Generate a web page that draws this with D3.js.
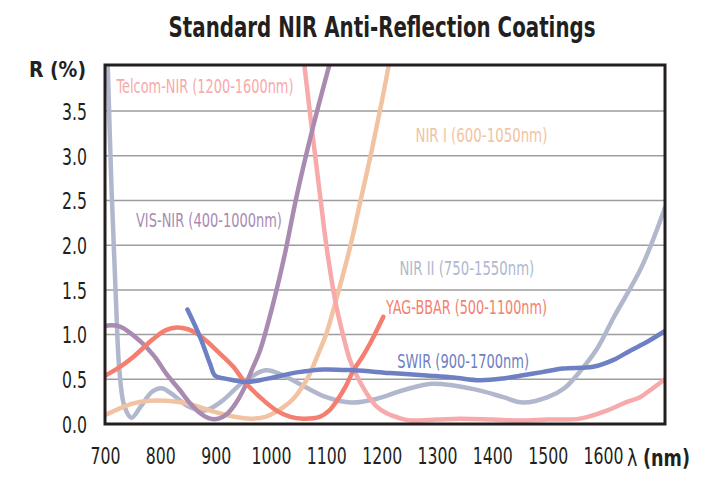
<!DOCTYPE html>
<html>
<head>
<meta charset="utf-8">
<script src="https://cdn.jsdelivr.net/npm/d3@7/dist/d3.min.js"></script>
<style>
  html, body { margin: 0; padding: 0; background: #fff; }
  svg { display: block; }
  .cond { font-family: "DejaVu Sans Condensed", "Liberation Sans Narrow", "Roboto Condensed", "Liberation Sans", sans-serif; font-stretch: condensed; }
</style>
</head>
<body>
<svg id="chart" width="706" height="490"></svg>
<script>
// ---------- data ----------
const xTicks = [700, 800, 900, 1000, 1100, 1200, 1300, 1400, 1500, 1600];
const yTicks = [0.0, 0.5, 1.0, 1.5, 2.0, 2.5, 3.0, 3.5];

const nir2 = [[704,4.2],[712,2.6],[720,1.35],[726,0.6],[735,0.2],[748,0.07],[765,0.2],[785,0.36],[802,0.4],[820,0.34],[850,0.2],[880,0.15],[910,0.25],[950,0.47],[990,0.6],[1020,0.55],[1060,0.42],[1100,0.3],[1145,0.24],[1190,0.28],[1240,0.38],[1290,0.45],[1330,0.43],[1380,0.37],[1420,0.3],[1455,0.24],[1500,0.3],[1530,0.4],[1560,0.6],[1590,0.85],[1620,1.2],[1670,1.76],[1712,2.42]];
const nir1 = [[700,0.1],[725,0.17],[751,0.23],[780,0.26],[811,0.26],[840,0.24],[860,0.21],[890,0.15],[920,0.1],[945,0.07],[968,0.06],[990,0.08],[1010,0.14],[1025,0.2],[1040,0.28],[1055,0.4],[1070,0.56],[1085,0.78],[1100,1.01],[1116,1.35],[1143,1.98],[1160,2.45],[1182,3.06],[1200,3.6],[1214,4.05]];
const telcom = [[1055,4.3],[1070,3.5],[1089,2.54],[1100,2.0],[1116,1.38],[1130,1.0],[1143,0.71],[1160,0.48],[1173,0.34],[1190,0.2],[1209,0.12],[1230,0.07],[1251,0.04],[1300,0.05],[1342,0.06],[1400,0.05],[1450,0.04],[1500,0.05],[1558,0.06],[1607,0.15],[1640,0.24],[1667,0.3],[1690,0.4],[1712,0.5]];
const visnir = [[700,1.1],[727,1.09],[763,0.93],[790,0.75],[811,0.56],[835,0.38],[854,0.23],[872,0.12],[890,0.06],[905,0.06],[920,0.11],[935,0.22],[950,0.38],[965,0.6],[980,0.82],[1004,1.35],[1025,1.9],[1046,2.54],[1075,3.3],[1107,4.05]];
const yag = [[700,0.54],[725,0.63],[751,0.75],[787,0.95],[810,1.05],[830,1.08],[850,1.06],[866,1.01],[885,0.92],[902,0.82],[932,0.64],[950,0.49],[980,0.3],[1010,0.15],[1035,0.08],[1058,0.06],[1088,0.08],[1105,0.15],[1119,0.26],[1135,0.42],[1149,0.6],[1165,0.75],[1179,0.9],[1203,1.2]];
const swir = [[849,1.28],[872,0.97],[890,0.67],[899,0.54],[915,0.51],[932,0.49],[956,0.47],[980,0.49],[1004,0.52],[1050,0.58],[1095,0.61],[1150,0.6],[1215,0.57],[1287,0.54],[1330,0.52],[1378,0.49],[1420,0.51],[1450,0.54],[1490,0.58],[1528,0.62],[1582,0.64],[1620,0.72],[1649,0.82],[1680,0.92],[1712,1.04]];

const seriesNames = ["NIR II (750-1550nm)", "NIR I (600-1050nm)", "Telcom-NIR (1200-1600nm)", "VIS-NIR (400-1000nm)", "YAG-BBAR (500-1100nm)", "SWIR (900-1700nm)"];
const seriesData = [nir2, nir1, telcom, visnir, yag, swir];
const seriesColors = ["#b1b8cd", "#f2c3a2", "#f8a9aa", "#a98bb1", "#f47f70", "#6e80c4"];
// label anchor points in data units (wavelength, R)
const labelPos = [[1232, 1.67], [1261, 3.15], [721, 3.7], [756, 2.2], [1208, 1.23], [1228, 0.63]];
const labelWidths = [135, 132, 177, 146, 161, 132];

// ---------- layout ----------
const svg = d3.select("#chart");
const pL = 105, pR = 665, pT = 65, pB = 424;
const x = d3.scaleLinear().domain([700, 1712]).range([pL, pR]);
const y = d3.scaleLinear().domain([0, 4]).range([pB, pB - 4 * 89.4]);

// squeeze a text horizontally (condensed look) to a given width about its anchor
function squeeze(sel, s) {
  const tx = +sel.attr("x") || 0, ty = +sel.attr("y") || 0;
  sel.attr("x", 0).attr("y", 0).attr("transform", `translate(${tx},${ty}) scale(${s},1)`);
}
function fitWidth(sel, w) {
  const nat = sel.node().getComputedTextLength();
  squeeze(sel, w / nat);
}

svg.append("defs").append("clipPath").attr("id", "plotclip")
  .append("rect").attr("x", pL).attr("y", pT).attr("width", pR - pL).attr("height", pB - pT);

// title
const title = svg.append("text").attr("class", "cond")
  .attr("x", 382).attr("y", 37).attr("text-anchor", "middle")
  .attr("font-size", 28).attr("font-weight", "bold").attr("fill", "#231f20")
  .text("Standard NIR Anti-Reflection Coatings");
fitWidth(title, 427);

// gridlines
svg.append("g").selectAll("line").data(yTicks.filter(d => d > 0)).join("line")
  .attr("x1", pL).attr("x2", pR)
  .attr("y1", d => y(d)).attr("y2", d => y(d))
  .attr("stroke", "#9d9d9d").attr("stroke-width", 1.5);

// y axis labels
const yAxis = d3.axisLeft(y).tickValues(yTicks).tickSize(0).tickPadding(0).tickFormat(d3.format(".1f"));
const gy = svg.append("g").attr("transform", `translate(${pL - 18},0)`).call(yAxis);
gy.select(".domain").remove();
gy.selectAll("text").attr("class", "cond").attr("font-size", 23).attr("fill", "#231f20").attr("dy", "0.36em")
  .each(function () { fitWidth(d3.select(this), 25); });

// x axis labels
const xAxis = d3.axisBottom(x).tickValues(xTicks).tickSize(0).tickPadding(0).tickFormat(d3.format("d"));
const gx = svg.append("g").attr("transform", `translate(0,${pB + 24})`).call(xAxis);
gx.select(".domain").remove();
gx.selectAll("text").attr("class", "cond").attr("font-size", 23).attr("fill", "#231f20").attr("dy", "0.71em")
  .each(function (d) { fitWidth(d3.select(this), String(d).length * 10); });

// axis titles
const yt = svg.append("text").attr("class", "cond").attr("x", 29).attr("y", 77)
  .attr("font-size", 22).attr("font-weight", "bold").attr("fill", "#231f20").text("R (%)");
fitWidth(yt, 57);
const xt = svg.append("text").attr("class", "cond").attr("x", 627).attr("y", 466)
  .attr("font-size", 23).attr("fill", "#231f20");
xt.append("tspan").text("λ ");
xt.append("tspan").attr("font-weight", "bold").text("(nm)");
fitWidth(xt, 63);

// lines
const line = d3.line().x(d => x(d[0])).y(d => y(d[1])).curve(d3.curveCatmullRom.alpha(0.5));
const gl = svg.append("g").attr("clip-path", "url(#plotclip)");
seriesData.forEach((data, i) => {
  gl.append("path").datum(data)
    .attr("d", line).attr("fill", "none")
    .attr("stroke", seriesColors[i]).attr("stroke-width", 4.5)
    .attr("stroke-linecap", "round").attr("stroke-linejoin", "round");
});

// series labels
seriesNames.forEach((name, i) => {
  const t = svg.append("text").attr("class", "cond")
    .attr("x", x(labelPos[i][0])).attr("y", y(labelPos[i][1]))
    .attr("font-size", 19.5).attr("fill", seriesColors[i])
    .text(name);
  fitWidth(t, labelWidths[i]);
});

// frame
svg.append("rect").attr("x", pL).attr("y", pT).attr("width", pR - pL).attr("height", pB - pT)
  .attr("fill", "none").attr("stroke", "#231f20").attr("stroke-width", 3);
</script>
</body>
</html>
